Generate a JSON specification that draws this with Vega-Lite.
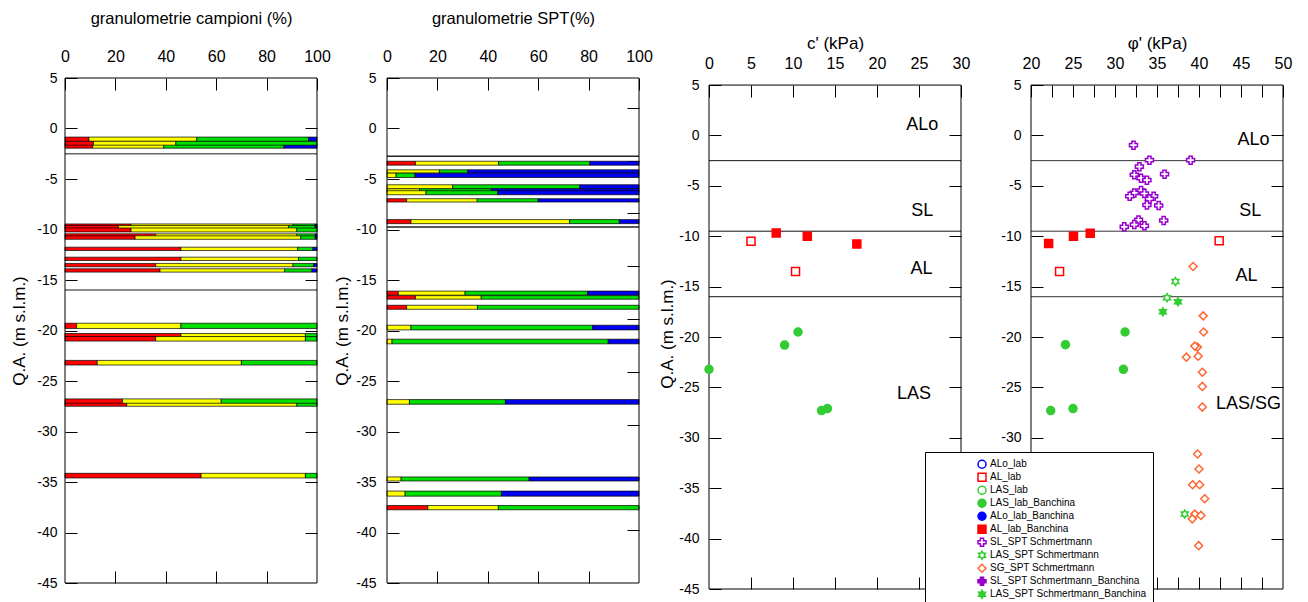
{
  "$schema": "https://vega.github.io/schema/vega-lite/v6.json",
  "padding": {"left": 10, "top": 10, "right": 5, "bottom": 0},
  "spacing": 70,
  "bounds": "flush",
  "config": {
    "font": "Liberation Sans",
    "view": {"stroke": null},
    "axis": {"grid": false, "domain": false, "labelFlush": false, "tickColor": "#000", "labelColor": "#000", "titleColor": "#000", "labelFont": "Liberation Sans", "titleFont": "Liberation Sans", "titleFontWeight": "normal", "tickWidth": 1},
    "text": {"font": "Liberation Sans"}
  },
  "resolve": {
    "scale": {"shape": "independent", "fill": "independent", "stroke": "independent"},
    "legend": {"shape": "independent", "fill": "independent", "stroke": "independent"}
  },
  "datasets": {
    "campioni": [
      {"campione": "C1", "da": -0.85, "a": -1.27, "argilla": 9.5, "limo": 42.8, "sabbia": 44.4, "ghiaia": 3.3},
      {"campione": "C3", "da": -1.55, "a": -1.95, "argilla": 11.0, "limo": 28.2, "sabbia": 47.7, "ghiaia": 13.1},
      {"campione": "C2", "da": -1.27, "a": -1.65, "argilla": 11.3, "limo": 32.7, "sabbia": 56.0, "ghiaia": 0},
      {"campione": "C4", "da": -9.45, "a": -9.8, "argilla": 26.2, "limo": 64.3, "sabbia": 8.8, "ghiaia": 0.7},
      {"campione": "C5", "da": -9.6, "a": -9.9, "argilla": 21.2, "limo": 67.5, "sabbia": 10.6, "ghiaia": 0.7},
      {"campione": "C6", "da": -9.85, "a": -10.24, "argilla": 26.2, "limo": 65.8, "sabbia": 8.0, "ghiaia": 0},
      {"campione": "C7", "da": -10.43, "a": -10.7, "argilla": 36.0, "limo": 56.0, "sabbia": 7.3, "ghiaia": 0.7},
      {"campione": "C8", "da": -10.63, "a": -10.97, "argilla": 27.8, "limo": 65.8, "sabbia": 5.7, "ghiaia": 0.7},
      {"campione": "C9", "da": -11.75, "a": -12.08, "argilla": 46.0, "limo": 46.3, "sabbia": 6.1, "ghiaia": 1.6},
      {"campione": "C10", "da": -12.74, "a": -13.07, "argilla": 46.0, "limo": 46.7, "sabbia": 7.3, "ghiaia": 0},
      {"campione": "C11", "da": -13.36, "a": -13.69, "argilla": 36.0, "limo": 54.5, "sabbia": 8.2, "ghiaia": 1.3},
      {"campione": "C12", "da": -13.89, "a": -14.22, "argilla": 37.7, "limo": 49.5, "sabbia": 10.8, "ghiaia": 2.0},
      {"campione": "C13", "da": -19.28, "a": -19.8, "argilla": 4.6, "limo": 41.4, "sabbia": 54.0, "ghiaia": 0},
      {"campione": "C14", "da": -20.3, "a": -20.65, "argilla": 46.0, "limo": 49.4, "sabbia": 4.6, "ghiaia": 0},
      {"campione": "C15", "da": -20.6, "a": -21.05, "argilla": 36.0, "limo": 59.4, "sabbia": 4.6, "ghiaia": 0},
      {"campione": "C16", "da": -22.96, "a": -23.42, "argilla": 12.8, "limo": 57.2, "sabbia": 30.0, "ghiaia": 0},
      {"campione": "C17", "da": -26.77, "a": -27.3, "argilla": 22.8, "limo": 39.2, "sabbia": 38.0, "ghiaia": 0},
      {"campione": "C18", "da": -27.2, "a": -27.5, "argilla": 24.5, "limo": 67.5, "sabbia": 8.0, "ghiaia": 0},
      {"campione": "C19", "da": -34.14, "a": -34.6, "argilla": 54.0, "limo": 41.4, "sabbia": 4.6, "ghiaia": 0}
    ],
    "spt": [
      {"campione": "S1", "da": -3.24, "a": -3.63, "argilla": 11.3, "limo": 33.0, "sabbia": 36.2, "ghiaia": 19.5},
      {"campione": "S2", "da": -4.09, "a": -4.42, "argilla": 0, "limo": 20.8, "sabbia": 11.2, "ghiaia": 68.0},
      {"campione": "S3", "da": -4.42, "a": -4.85, "argilla": 0, "limo": 3.6, "sabbia": 7.5, "ghiaia": 88.9},
      {"campione": "S4", "da": -5.57, "a": -5.97, "argilla": 0, "limo": 26.1, "sabbia": 50.4, "ghiaia": 23.5},
      {"campione": "S5", "da": -5.97, "a": -6.3, "argilla": 0, "limo": 12.9, "sabbia": 28.5, "ghiaia": 58.6},
      {"campione": "S6", "da": -6.16, "a": -6.56, "argilla": 0, "limo": 15.5, "sabbia": 28.5, "ghiaia": 56.0},
      {"campione": "S7", "da": -6.95, "a": -7.28, "argilla": 7.8, "limo": 28.0, "sabbia": 24.2, "ghiaia": 40.0},
      {"campione": "S8", "da": -9.02, "a": -9.42, "argilla": 9.5, "limo": 63.0, "sabbia": 19.7, "ghiaia": 7.8},
      {"campione": "S9", "da": -16.1, "a": -16.5, "argilla": 4.5, "limo": 26.5, "sabbia": 48.6, "ghiaia": 20.4},
      {"campione": "S10", "da": -16.55, "a": -16.9, "argilla": 11.3, "limo": 26.1, "sabbia": 62.6, "ghiaia": 0},
      {"campione": "S11", "da": -17.5, "a": -17.9, "argilla": 7.8, "limo": 28.1, "sabbia": 64.1, "ghiaia": 0},
      {"campione": "S12", "da": -19.48, "a": -19.94, "argilla": 0, "limo": 9.5, "sabbia": 72.1, "ghiaia": 18.4},
      {"campione": "S13", "da": -20.86, "a": -21.32, "argilla": 0, "limo": 2.0, "sabbia": 85.8, "ghiaia": 12.2},
      {"campione": "S14", "da": -26.84, "a": -27.3, "argilla": 0, "limo": 8.9, "sabbia": 38.1, "ghiaia": 53.0},
      {"campione": "S15", "da": -34.5, "a": -34.9, "argilla": 0, "limo": 5.6, "sabbia": 50.8, "ghiaia": 43.6},
      {"campione": "S16", "da": -35.9, "a": -36.4, "argilla": 0, "limo": 7.2, "sabbia": 38.2, "ghiaia": 54.6},
      {"campione": "S17", "da": -37.33, "a": -37.75, "argilla": 16.2, "limo": 28.0, "sabbia": 55.8, "ghiaia": 0}
    ],
    "c_prove": [
      {"tipo": "AL_lab", "c": 5.0, "quota": -10.5},
      {"tipo": "AL_lab", "c": 10.3, "quota": -13.5},
      {"tipo": "AL_lab_Banchina", "c": 8.0, "quota": -9.67},
      {"tipo": "AL_lab_Banchina", "c": 11.7, "quota": -10.0},
      {"tipo": "AL_lab_Banchina", "c": 17.6, "quota": -10.76},
      {"tipo": "LAS_lab_Banchina", "c": 10.6, "quota": -19.5},
      {"tipo": "LAS_lab_Banchina", "c": 9.0, "quota": -20.8},
      {"tipo": "LAS_lab_Banchina", "c": 0.0, "quota": -23.2},
      {"tipo": "LAS_lab_Banchina", "c": 13.4, "quota": -27.3},
      {"tipo": "LAS_lab_Banchina", "c": 14.1, "quota": -27.1}
    ],
    "phi_prove": [
      {"tipo": "SL_SPT Schmertmann", "phi": 32.2, "quota": -0.96},
      {"tipo": "SL_SPT Schmertmann", "phi": 34.1, "quota": -2.45},
      {"tipo": "SL_SPT Schmertmann", "phi": 39.0, "quota": -2.45},
      {"tipo": "SL_SPT Schmertmann", "phi": 32.9, "quota": -3.1},
      {"tipo": "SL_SPT Schmertmann", "phi": 32.3, "quota": -3.9},
      {"tipo": "SL_SPT Schmertmann", "phi": 35.9, "quota": -3.84},
      {"tipo": "SL_SPT Schmertmann", "phi": 33.1, "quota": -4.24},
      {"tipo": "SL_SPT Schmertmann", "phi": 33.8, "quota": -4.44},
      {"tipo": "SL_SPT Schmertmann", "phi": 33.1, "quota": -5.46},
      {"tipo": "SL_SPT Schmertmann", "phi": 32.3, "quota": -5.7},
      {"tipo": "SL_SPT Schmertmann", "phi": 31.75, "quota": -6.03},
      {"tipo": "SL_SPT Schmertmann", "phi": 33.5, "quota": -5.76},
      {"tipo": "SL_SPT Schmertmann", "phi": 34.6, "quota": -6.03},
      {"tipo": "SL_SPT Schmertmann", "phi": 34.1, "quota": -6.3},
      {"tipo": "SL_SPT Schmertmann", "phi": 33.8, "quota": -6.9},
      {"tipo": "SL_SPT Schmertmann", "phi": 35.2, "quota": -6.95},
      {"tipo": "SL_SPT Schmertmann", "phi": 35.8, "quota": -8.44},
      {"tipo": "SL_SPT Schmertmann", "phi": 32.8, "quota": -8.38},
      {"tipo": "SL_SPT Schmertmann", "phi": 32.3, "quota": -8.84},
      {"tipo": "SL_SPT Schmertmann", "phi": 33.5, "quota": -8.97},
      {"tipo": "SL_SPT Schmertmann", "phi": 31.1, "quota": -9.07},
      {"tipo": "AL_lab_Banchina", "phi": 22.1, "quota": -10.73},
      {"tipo": "AL_lab_Banchina", "phi": 25.06, "quota": -10.0},
      {"tipo": "AL_lab_Banchina", "phi": 27.05, "quota": -9.7},
      {"tipo": "AL_lab", "phi": 23.4, "quota": -13.5},
      {"tipo": "AL_lab", "phi": 42.4, "quota": -10.46},
      {"tipo": "LAS_lab_Banchina", "phi": 31.2, "quota": -19.5},
      {"tipo": "LAS_lab_Banchina", "phi": 24.1, "quota": -20.76},
      {"tipo": "LAS_lab_Banchina", "phi": 31.0, "quota": -23.2},
      {"tipo": "LAS_lab_Banchina", "phi": 22.35, "quota": -27.3},
      {"tipo": "LAS_lab_Banchina", "phi": 25.0, "quota": -27.1},
      {"tipo": "LAS_SPT Schmertmann", "phi": 37.2, "quota": -14.5},
      {"tipo": "LAS_SPT Schmertmann", "phi": 36.2, "quota": -16.1},
      {"tipo": "LAS_SPT Schmertmann", "phi": 38.3, "quota": -37.57},
      {"tipo": "LAS_SPT Schmertmann_Banchina", "phi": 37.5, "quota": -16.5},
      {"tipo": "LAS_SPT Schmertmann_Banchina", "phi": 35.7, "quota": -17.5},
      {"tipo": "SG_SPT Schmertmann", "phi": 39.3, "quota": -13.0},
      {"tipo": "SG_SPT Schmertmann", "phi": 40.5, "quota": -17.9},
      {"tipo": "SG_SPT Schmertmann", "phi": 40.55, "quota": -19.5},
      {"tipo": "SG_SPT Schmertmann", "phi": 39.8, "quota": -21.0},
      {"tipo": "SG_SPT Schmertmann", "phi": 39.5, "quota": -20.9},
      {"tipo": "SG_SPT Schmertmann", "phi": 38.5, "quota": -22.0},
      {"tipo": "SG_SPT Schmertmann", "phi": 39.9, "quota": -21.9},
      {"tipo": "SG_SPT Schmertmann", "phi": 40.4, "quota": -23.5},
      {"tipo": "SG_SPT Schmertmann", "phi": 40.4, "quota": -24.9},
      {"tipo": "SG_SPT Schmertmann", "phi": 40.4, "quota": -26.95},
      {"tipo": "SG_SPT Schmertmann", "phi": 39.83, "quota": -31.6},
      {"tipo": "SG_SPT Schmertmann", "phi": 40.0, "quota": -33.1},
      {"tipo": "SG_SPT Schmertmann", "phi": 39.24, "quota": -34.66},
      {"tipo": "SG_SPT Schmertmann", "phi": 40.08, "quota": -34.66},
      {"tipo": "SG_SPT Schmertmann", "phi": 40.68, "quota": -36.05},
      {"tipo": "SG_SPT Schmertmann", "phi": 39.5, "quota": -37.57},
      {"tipo": "SG_SPT Schmertmann", "phi": 40.23, "quota": -37.7},
      {"tipo": "SG_SPT Schmertmann", "phi": 39.2, "quota": -38.04},
      {"tipo": "SG_SPT Schmertmann", "phi": 39.96, "quota": -40.7}
    ],
    "limiti_campioni": [{"quota": -2.5}, {"quota": -16}],
    "limiti_spt": [{"quota": -2.75}, {"quota": -9.75}],
    "limiti": [{"quota": -2.5}, {"quota": -9.5}, {"quota": -16}],
    "etichette_c": [
      {"c": 25.4, "quota": 1.0, "unita": "ALo"},
      {"c": 25.4, "quota": -7.45, "unita": "SL"},
      {"c": 25.3, "quota": -13.25, "unita": "AL"},
      {"c": 24.4, "quota": -25.7, "unita": "LAS"}
    ],
    "etichette_phi": [
      {"phi": 46.5, "quota": -0.5, "unita": "ALo"},
      {"phi": 46.1, "quota": -7.45, "unita": "SL"},
      {"phi": 45.65, "quota": -13.9, "unita": "AL"},
      {"phi": 45.9, "quota": -26.6, "unita": "LAS/SG"}
    ]
  },
  "hconcat": [
    {
      "width": 252, "height": 505,
      "resolve": {"scale": {"x": "independent", "y": "independent"}},
      "layer": [
        {
          "data": {"name": "campioni"},
          "transform": [
            {"fold": ["argilla", "limo", "sabbia", "ghiaia"], "as": ["frazione", "perc"]},
            {"filter": "datum.perc > 0"},
            {"stack": "perc", "groupby": ["campione"], "as": ["x0", "x1"]}
          ],
          "mark": {"type": "rect", "stroke": "#000", "strokeWidth": 0.7},
          "encoding": {
            "x": {"field": "x0", "type": "quantitative", "scale": {"domain": [0, 100], "nice": false, "zero": false},
              "axis": {"orient": "top", "values": [0, 20, 40, 60, 80, 100], "tickSize": -12, "labelPadding": 26, "labelFontSize": 16, "title": "granulometrie campioni (%)", "titleFontSize": 16.5, "titlePadding": 22}},
            "x2": {"field": "x1"},
            "y": {"field": "da", "type": "quantitative", "scale": {"domain": [-45, 5], "nice": false, "zero": false},
              "axis": {"orient": "left", "values": [5, 0, -5, -10, -15, -20, -25, -30, -35, -40, -45], "tickSize": -12, "labelPadding": 20, "labelFontSize": 14, "labelExpr": "datum.value + ''", "title": "Q.A. (m s.l.m.)", "titleFontSize": 17, "titlePadding": 8}},
            "y2": {"field": "a"},
            "color": {"field": "frazione", "type": "nominal", "scale": {"domain": ["argilla", "limo", "sabbia", "ghiaia"], "range": ["#ff0000", "#ffff00", "#00e000", "#0000f5"]}, "legend": null}
          }
        },
        {
          "data": {"name": "limiti_campioni"},
          "mark": {"type": "rule", "color": "#666", "strokeWidth": 1.5},
          "encoding": {"y": {"field": "quota", "type": "quantitative", "scale": {"domain": [-45, 5], "nice": false, "zero": false}, "axis": null}}
        },
        {
          "data": {"values": [{}]},
          "mark": {"type": "rect", "filled": false, "stroke": "#000", "strokeWidth": 1},
          "encoding": {
            "x": {"datum": 0, "type": "quantitative", "scale": {"domain": [0, 100], "nice": false, "zero": false},
              "axis": {"orient": "bottom", "values": [20, 40, 60, 80], "tickSize": -12, "labels": false, "title": null}},
            "x2": {"datum": 100},
            "y": {"datum": -45, "type": "quantitative", "scale": {"domain": [-45, 5], "nice": false, "zero": false},
              "axis": {"orient": "right", "values": [0, -5, -10, -15, -20, -25, -30, -35, -40], "tickSize": -12, "labels": false, "title": null}},
            "y2": {"datum": 5}
          }
        }
      ]
    },
    {
      "width": 252, "height": 505,
      "resolve": {"scale": {"x": "independent", "y": "independent"}},
      "layer": [
        {
          "data": {"name": "spt"},
          "transform": [
            {"fold": ["argilla", "limo", "sabbia", "ghiaia"], "as": ["frazione", "perc"]},
            {"filter": "datum.perc > 0"},
            {"stack": "perc", "groupby": ["campione"], "as": ["x0", "x1"]}
          ],
          "mark": {"type": "rect", "stroke": "#000", "strokeWidth": 0.7},
          "encoding": {
            "x": {"field": "x0", "type": "quantitative", "scale": {"domain": [0, 100], "nice": false, "zero": false},
              "axis": {"orient": "top", "values": [0, 20, 40, 60, 80, 100], "tickSize": -12, "labelPadding": 26, "labelFontSize": 16, "title": "granulometrie SPT(%)", "titleFontSize": 16.5, "titlePadding": 22}},
            "x2": {"field": "x1"},
            "y": {"field": "da", "type": "quantitative", "scale": {"domain": [-45, 5], "nice": false, "zero": false},
              "axis": {"orient": "left", "values": [5, 0, -5, -10, -15, -20, -25, -30, -35, -40, -45], "tickSize": -12, "labelPadding": 23, "labelFontSize": 14, "labelExpr": "datum.value + ''", "title": "Q.A. (m s.l.m.)", "titleFontSize": 17, "titlePadding": 4}},
            "y2": {"field": "a"},
            "color": {"field": "frazione", "type": "nominal", "scale": {"domain": ["argilla", "limo", "sabbia", "ghiaia"], "range": ["#ff0000", "#ffff00", "#00e000", "#0000f5"]}, "legend": null}
          }
        },
        {
          "data": {"name": "limiti_spt"},
          "mark": {"type": "rule", "color": "#222", "strokeWidth": 1.5},
          "encoding": {"y": {"field": "quota", "type": "quantitative", "scale": {"domain": [-45, 5], "nice": false, "zero": false}, "axis": null}}
        },
        {
          "data": {"values": [{}]},
          "mark": {"type": "rect", "filled": false, "stroke": "#000", "strokeWidth": 1},
          "encoding": {
            "x": {"datum": 0, "type": "quantitative", "scale": {"domain": [0, 100], "nice": false, "zero": false},
              "axis": {"orient": "bottom", "values": [20, 40, 60, 80], "tickSize": -12, "labels": false, "title": null}},
            "x2": {"datum": 100},
            "y": {"datum": -45, "type": "quantitative", "scale": {"domain": [-45, 5], "nice": false, "zero": false},
              "axis": {"orient": "right", "values": [2.05, -3.18, -8.41, -13.64, -18.87, -24.1, -29.33, -34.56, -39.79], "tickSize": -12, "labels": false, "title": null}},
            "y2": {"datum": 5}
          }
        }
      ]
    },
    {
      "width": 252, "height": 511,
      "resolve": {"scale": {"x": "independent", "y": "independent"}},
      "layer": [
        {
          "data": {"name": "limiti"},
          "mark": {"type": "rule", "color": "#111", "strokeWidth": 1},
          "encoding": {"y": {"field": "quota", "type": "quantitative", "scale": {"domain": [-45, 5.7], "nice": false, "zero": false}, "axis": null}}
        },
        {
          "data": {"values": [{}]},
          "mark": {"type": "rect", "filled": false, "stroke": "#000", "strokeWidth": 1},
          "encoding": {
            "x": {"datum": 0, "type": "quantitative", "scale": {"domain": [0, 30], "nice": false, "zero": false},
              "axis": {"orient": "bottom", "values": [5, 10, 15, 20, 25], "tickSize": -12, "labels": false, "title": null}},
            "x2": {"datum": 30},
            "y": {"datum": -45, "type": "quantitative", "scale": {"domain": [-45, 5.7], "nice": false, "zero": false},
              "axis": {"orient": "right", "values": [0, -5, -10, -15, -20, -25, -30, -35, -40], "tickSize": -12, "labels": false, "title": null}},
            "y2": {"datum": 5}
          }
        },
        {
          "data": {"name": "c_prove"},
          "mark": {"type": "point", "size": 64, "strokeWidth": 1.5, "opacity": 1},
          "encoding": {
            "x": {"field": "c", "type": "quantitative", "scale": {"domain": [0, 30], "nice": false, "zero": false},
              "axis": {"orient": "top", "values": [0, 5, 10, 15, 20, 25, 30], "tickSize": -12, "labelPadding": 26, "labelFontSize": 16, "offset": -7, "title": "c' (kPa)", "titleFontSize": 17, "titlePadding": 3}},
            "y": {"field": "quota", "type": "quantitative", "scale": {"domain": [-45, 5.7], "nice": false, "zero": false},
              "axis": {"orient": "left", "values": [5, 0, -5, -10, -15, -20, -25, -30, -35, -40, -45], "tickSize": -12, "labelPadding": 22, "labelFontSize": 14, "labelExpr": "datum.value + ''", "title": "Q.A. (m s.l.m.)", "titleFontSize": 17, "titlePadding": 2}},
            "shape": {"field": "tipo", "type": "nominal", "legend": null,
              "scale": {"domain": ["ALo_lab", "AL_lab", "LAS_lab", "LAS_lab_Banchina", "ALo_lab_Banchina", "AL_lab_Banchina", "SL_SPT Schmertmann", "LAS_SPT Schmertmann", "SG_SPT Schmertmann", "SL_SPT Schmertmann_Banchina", "LAS_SPT Schmertmann_Banchina"],
                "range": ["circle", "square", "circle", "circle", "circle", "square", "cross", "M0,-1L0.289,-0.5L0.866,-0.5L0.577,0L0.866,0.5L0.289,0.5L0,1L-0.289,0.5L-0.866,0.5L-0.577,0L-0.866,-0.5L-0.289,-0.5Z", "diamond", "cross", "M0,-1L0.289,-0.5L0.866,-0.5L0.577,0L0.866,0.5L0.289,0.5L0,1L-0.289,0.5L-0.866,0.5L-0.577,0L-0.866,-0.5L-0.289,-0.5Z"]}},
            "stroke": {"field": "tipo", "type": "nominal", "legend": null,
              "scale": {"domain": ["ALo_lab", "AL_lab", "LAS_lab", "LAS_lab_Banchina", "ALo_lab_Banchina", "AL_lab_Banchina", "SL_SPT Schmertmann", "LAS_SPT Schmertmann", "SG_SPT Schmertmann", "SL_SPT Schmertmann_Banchina", "LAS_SPT Schmertmann_Banchina"],
                "range": ["#0000ff", "#ff0000", "#33cc33", "#33cc33", "#0000ff", "#ff0000", "#9900cc", "#33cc33", "#ff6633", "#9900cc", "#33cc33"]}},
            "fill": {"field": "tipo", "type": "nominal", "legend": null,
              "scale": {"domain": ["ALo_lab", "AL_lab", "LAS_lab", "LAS_lab_Banchina", "ALo_lab_Banchina", "AL_lab_Banchina", "SL_SPT Schmertmann", "LAS_SPT Schmertmann", "SG_SPT Schmertmann", "SL_SPT Schmertmann_Banchina", "LAS_SPT Schmertmann_Banchina"],
                "range": ["#ffffff", "#ffffff", "#ffffff", "#33cc33", "#0000ff", "#ff0000", "#ffffff", "#ffffff", "#ffffff", "#9900cc", "#33cc33"]}}
          }
        },
        {
          "data": {"name": "etichette_c"},
          "mark": {"type": "text", "fontSize": 18, "align": "center", "baseline": "middle", "color": "#000"},
          "encoding": {
            "x": {"field": "c", "type": "quantitative", "scale": {"domain": [0, 30], "nice": false, "zero": false}, "axis": null},
            "y": {"field": "quota", "type": "quantitative", "scale": {"domain": [-45, 5.7], "nice": false, "zero": false}, "axis": null},
            "text": {"field": "unita"}
          }
        }
      ]
    },
    {
      "width": 252, "height": 511,
      "resolve": {"scale": {"x": "independent", "y": "independent"}},
      "layer": [
        {
          "data": {"name": "limiti"},
          "mark": {"type": "rule", "color": "#333", "strokeWidth": 1},
          "encoding": {"y": {"field": "quota", "type": "quantitative", "scale": {"domain": [-45, 5.7], "nice": false, "zero": false}, "axis": null}}
        },
        {
          "data": {"values": [{}]},
          "mark": {"type": "rect", "filled": false, "stroke": "#000", "strokeWidth": 1},
          "encoding": {
            "x": {"datum": 20, "type": "quantitative", "scale": {"domain": [20, 50], "nice": false, "zero": false},
              "axis": {"orient": "bottom", "values": [22.5, 25, 27.5, 30, 32.5, 35, 37.5, 40, 42.5, 45, 47.5], "tickSize": -12, "labels": false, "title": null}},
            "x2": {"datum": 50},
            "y": {"datum": -45, "type": "quantitative", "scale": {"domain": [-45, 5.7], "nice": false, "zero": false},
              "axis": {"orient": "right", "values": [0, -5, -10, -15, -20, -25, -30, -35, -40], "tickSize": -12, "labels": false, "title": null}},
            "y2": {"datum": 5}
          }
        },
        {
          "data": {"name": "phi_prove"},
          "mark": {"type": "point", "size": 64, "strokeWidth": 1.5, "opacity": 1},
          "encoding": {
            "x": {"field": "phi", "type": "quantitative", "scale": {"domain": [20, 50], "nice": false, "zero": false},
              "axis": {"orient": "top", "values": [20, 22.5, 25, 27.5, 30, 32.5, 35, 37.5, 40, 42.5, 45, 47.5, 50], "labelExpr": "datum.value % 5 == 0 ? datum.value + '' : ''", "tickSize": -12, "labelPadding": 26, "labelFontSize": 16, "offset": -7, "title": "φ' (kPa)", "titleFontSize": 17, "titlePadding": 3}},
            "y": {"field": "quota", "type": "quantitative", "scale": {"domain": [-45, 5.7], "nice": false, "zero": false},
              "axis": {"orient": "left", "values": [5, 0, -5, -10, -15, -20, -25, -30], "tickSize": -12, "labelPadding": 22, "labelFontSize": 14, "labelExpr": "datum.value + ''", "title": null}},
            "shape": {"field": "tipo", "type": "nominal",
              "legend": {"orient": "none", "legendX": -106, "legendY": 374, "zindex": 2, "title": null, "strokeColor": "#000", "fillColor": "#fff", "padding": 6, "labelFontSize": 10, "labelFont": "Liberation Sans", "symbolSize": 64, "symbolStrokeWidth": 1.5, "symbolOffset": 46, "rowPadding": 0, "clipHeight": 12.5, "labelOffset": 3, "labelColor": "#000"},
              "scale": {"domain": ["ALo_lab", "AL_lab", "LAS_lab", "LAS_lab_Banchina", "ALo_lab_Banchina", "AL_lab_Banchina", "SL_SPT Schmertmann", "LAS_SPT Schmertmann", "SG_SPT Schmertmann", "SL_SPT Schmertmann_Banchina", "LAS_SPT Schmertmann_Banchina"],
                "range": ["circle", "square", "circle", "circle", "circle", "square", "cross", "M0,-1L0.289,-0.5L0.866,-0.5L0.577,0L0.866,0.5L0.289,0.5L0,1L-0.289,0.5L-0.866,0.5L-0.577,0L-0.866,-0.5L-0.289,-0.5Z", "diamond", "cross", "M0,-1L0.289,-0.5L0.866,-0.5L0.577,0L0.866,0.5L0.289,0.5L0,1L-0.289,0.5L-0.866,0.5L-0.577,0L-0.866,-0.5L-0.289,-0.5Z"]}},
            "stroke": {"field": "tipo", "type": "nominal",
              "legend": {"orient": "none", "legendX": -106, "legendY": 374, "zindex": 2, "title": null, "strokeColor": "#000", "fillColor": "#fff", "padding": 6, "labelFontSize": 10, "labelFont": "Liberation Sans", "symbolSize": 64, "symbolStrokeWidth": 1.5, "symbolOffset": 46, "rowPadding": 0, "clipHeight": 12.5, "labelOffset": 3, "labelColor": "#000"},
              "scale": {"domain": ["ALo_lab", "AL_lab", "LAS_lab", "LAS_lab_Banchina", "ALo_lab_Banchina", "AL_lab_Banchina", "SL_SPT Schmertmann", "LAS_SPT Schmertmann", "SG_SPT Schmertmann", "SL_SPT Schmertmann_Banchina", "LAS_SPT Schmertmann_Banchina"],
                "range": ["#0000ff", "#ff0000", "#33cc33", "#33cc33", "#0000ff", "#ff0000", "#9900cc", "#33cc33", "#ff6633", "#9900cc", "#33cc33"]}},
            "fill": {"field": "tipo", "type": "nominal",
              "legend": {"orient": "none", "legendX": -106, "legendY": 374, "zindex": 2, "title": null, "strokeColor": "#000", "fillColor": "#fff", "padding": 6, "labelFontSize": 10, "labelFont": "Liberation Sans", "symbolSize": 64, "symbolStrokeWidth": 1.5, "symbolOffset": 46, "rowPadding": 0, "clipHeight": 12.5, "labelOffset": 3, "labelColor": "#000"},
              "scale": {"domain": ["ALo_lab", "AL_lab", "LAS_lab", "LAS_lab_Banchina", "ALo_lab_Banchina", "AL_lab_Banchina", "SL_SPT Schmertmann", "LAS_SPT Schmertmann", "SG_SPT Schmertmann", "SL_SPT Schmertmann_Banchina", "LAS_SPT Schmertmann_Banchina"],
                "range": ["#ffffff", "#ffffff", "#ffffff", "#33cc33", "#0000ff", "#ff0000", "#ffffff", "#ffffff", "#ffffff", "#9900cc", "#33cc33"]}}
          }
        },
        {
          "data": {"name": "etichette_phi"},
          "mark": {"type": "text", "fontSize": 18, "align": "center", "baseline": "middle", "color": "#000"},
          "encoding": {
            "x": {"field": "phi", "type": "quantitative", "scale": {"domain": [20, 50], "nice": false, "zero": false}, "axis": null},
            "y": {"field": "quota", "type": "quantitative", "scale": {"domain": [-45, 5.7], "nice": false, "zero": false}, "axis": null},
            "text": {"field": "unita"}
          }
        }
      ]
    }
  ]
}
